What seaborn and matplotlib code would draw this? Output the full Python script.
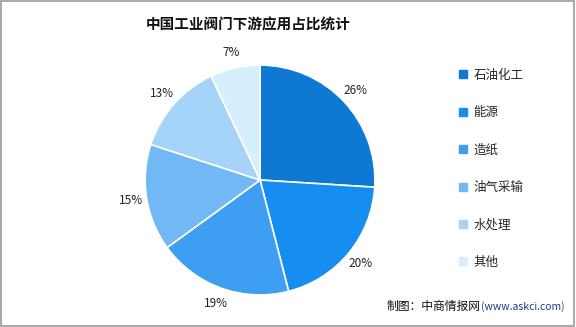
import matplotlib
matplotlib.use("Agg")
import matplotlib.pyplot as plt
from matplotlib.lines import Line2D
from matplotlib.patches import Rectangle
import seaborn as sns

categories = ["石油化工", "能源", "造纸", "油气采输", "水处理", "其他"]
values = [26, 20, 19, 15, 13, 7]
colors = ["#0f78d2", "#168ef0", "#3d9ef2", "#72b8f4", "#a6d4f8", "#d6effc"]
title = "中国工业阀门下游应用占比统计"

sns.set_theme(style="white")
plt.rcParams['font.family'] = ['Noto Sans CJK SC', 'DejaVu Sans']

fig = plt.figure(figsize=(5.76, 3.27), dpi=100)
fig.patch.set_facecolor("white")

ax = fig.add_axes([0.252, 0.098, 0.399, 0.703])
wedges, texts = ax.pie(values, colors=colors, startangle=90, counterclock=False,
                       labels=[f"{v}%" for v in values], labeldistance=1.14,
                       wedgeprops=dict(edgecolor="white", linewidth=1.2),
                       textprops=dict(fontsize=8.5, color="#222222"))
for t in texts:
    t.set_ha("center")
    t.set_va("center")
ax.set_xlim(-1, 1)
ax.set_ylim(-1, 1)
ax.set_aspect("equal")

handles = [Line2D([0], [0], marker="s", linestyle="", markersize=6,
                  markerfacecolor=c, markeredgecolor=c) for c in colors]
fig.legend(handles, categories, loc="upper left", bbox_to_anchor=(0.785, 0.805),
           frameon=False, fontsize=9, labelspacing=1.95, handletextpad=0.3,
           handlelength=1.0, borderaxespad=0)

fig.text(0.43, 0.924, title, ha="center", va="center", fontsize=10.5,
         fontweight="bold", color="#111111")

fig.text(0.835, 0.062, "制图：中商情报网", ha="right", va="center",
         fontsize=8.5, color="#111111")
fig.text(0.835, 0.062, "(www.askci.com)", ha="left", va="center",
         fontsize=7.5, color="#1f3c88")

fig.add_artist(Rectangle((0.002, 0.003), 0.995, 0.994, transform=fig.transFigure,
                         fill=False, edgecolor="#9a9a9a", linewidth=1.2))

fig.savefig("out.png", dpi=100, facecolor="white")
